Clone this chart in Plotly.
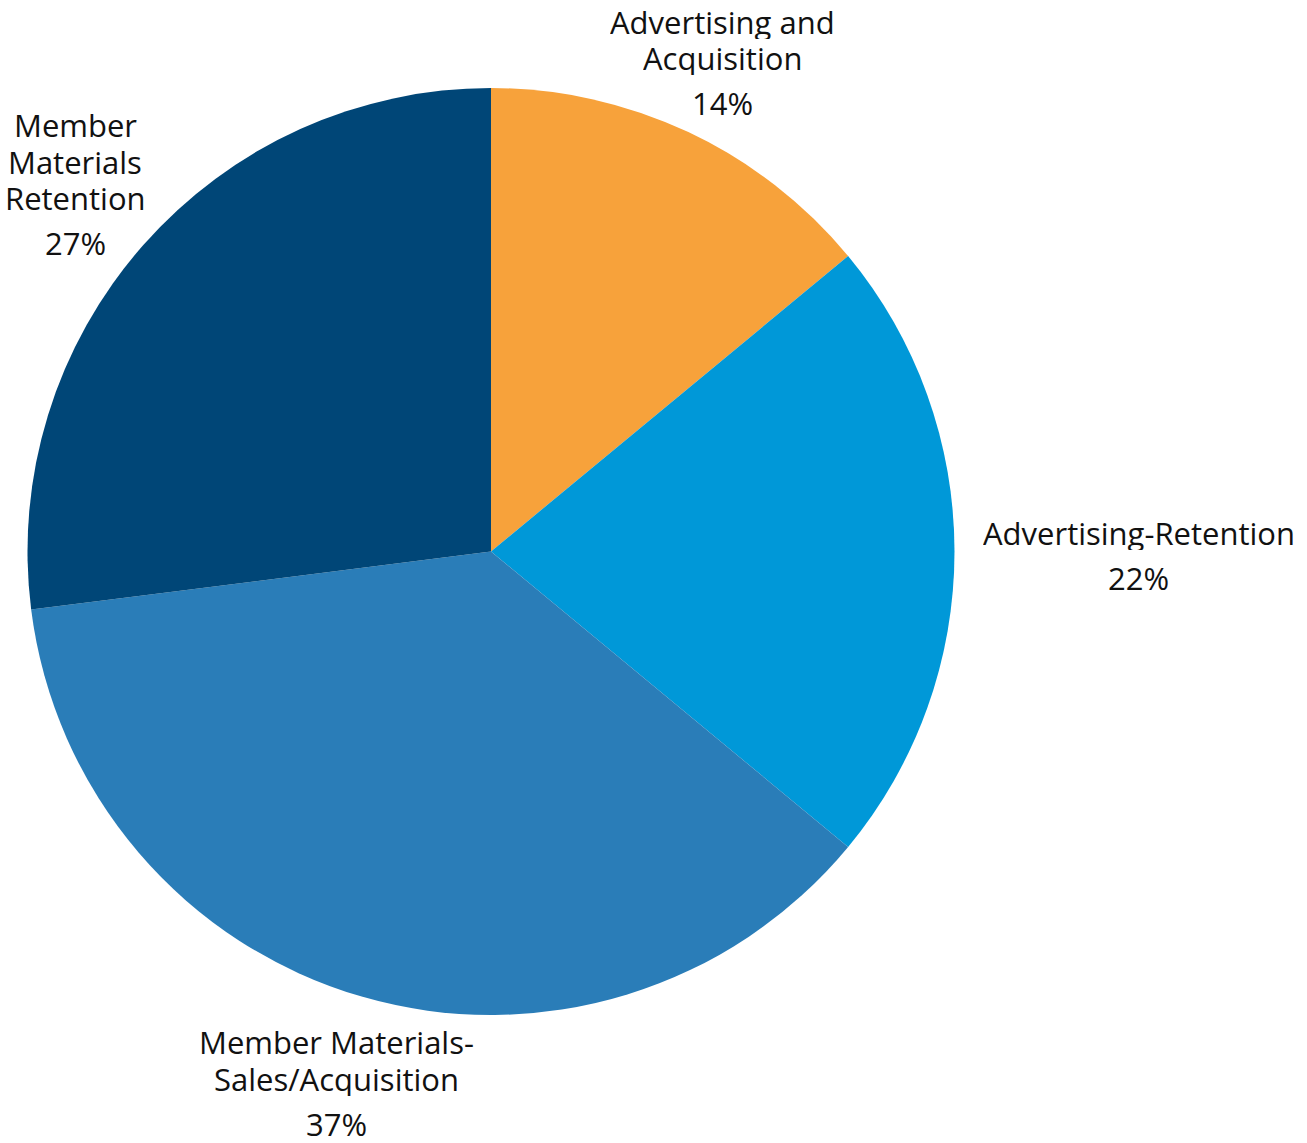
import math
import plotly.graph_objects as go

labels = ["Advertising and Acquisition", "Advertising-Retention",
          "Member Materials-Sales/Acquisition", "Member Materials Retention"]
label_lines = [["Advertising and", "Acquisition"], ["Advertising-Retention"],
               ["Member Materials-", "Sales/Acquisition"], ["Member", "Materials", "Retention"]]
values = [14, 22, 37, 27]
colors = ["#F7A23B", "#0098D8", "#2A7DB8", "#004677"]

W, H = 1307, 1143
# pie geometry in pixels
left, right, top, bottom = 27, 955, 88, 1015
cx, cy = (left + right) / 2, (top + bottom) / 2
R = (right - left) / 2

# per-label radial factor for the percent line and pixel tweaks (style)
rfac = [1.09, 1.40, 1.29, 1.12]
tweak = [(16, 9), (-2, 26), (12, -3), (-26, 35)]
line_gap = 36.5      # spacing between name lines
pct_gap = 45         # spacing between last name line and percent
box_h = 35

fig = go.Figure(go.Pie(
    labels=labels, values=values, sort=False, direction="clockwise", rotation=0,
    marker=dict(colors=colors, line=dict(width=0)),
    textinfo="none", hoverinfo="label+percent", showlegend=False,
    domain=dict(x=[left / W, right / W], y=[1 - bottom / H, 1 - top / H]),
))

font = dict(family="Open Sans, Noto Sans, sans-serif", size=31, color="#111111")
total = sum(values)
cum = 0
for i, v in enumerate(values):
    mid = (cum + v / 2) / total * 2 * math.pi
    cum += v
    px = cx + math.sin(mid) * R * rfac[i] + tweak[i][0]
    py = cy - math.cos(mid) * R * rfac[i] + tweak[i][1]
    lines = label_lines[i]
    n = len(lines)
    for j, t in enumerate(lines):
        ly = py - pct_gap - (n - 1 - j) * line_gap
        fig.add_annotation(x=px / W, y=1 - ly / H, xref="paper", yref="paper", text=t,
                           showarrow=False, xanchor="center", yanchor="middle",
                           align="center", valign="middle", height=box_h, font=font)
    fig.add_annotation(x=px / W, y=1 - py / H, xref="paper", yref="paper",
                       text=f"{round(v / total * 100)}%",
                       showarrow=False, xanchor="center", yanchor="middle",
                       align="center", valign="middle", height=box_h, font=font)

fig.update_layout(width=W, height=H, margin=dict(l=0, r=0, t=0, b=0),
                  paper_bgcolor="white", plot_bgcolor="white")
fig.write_html("out.html")
